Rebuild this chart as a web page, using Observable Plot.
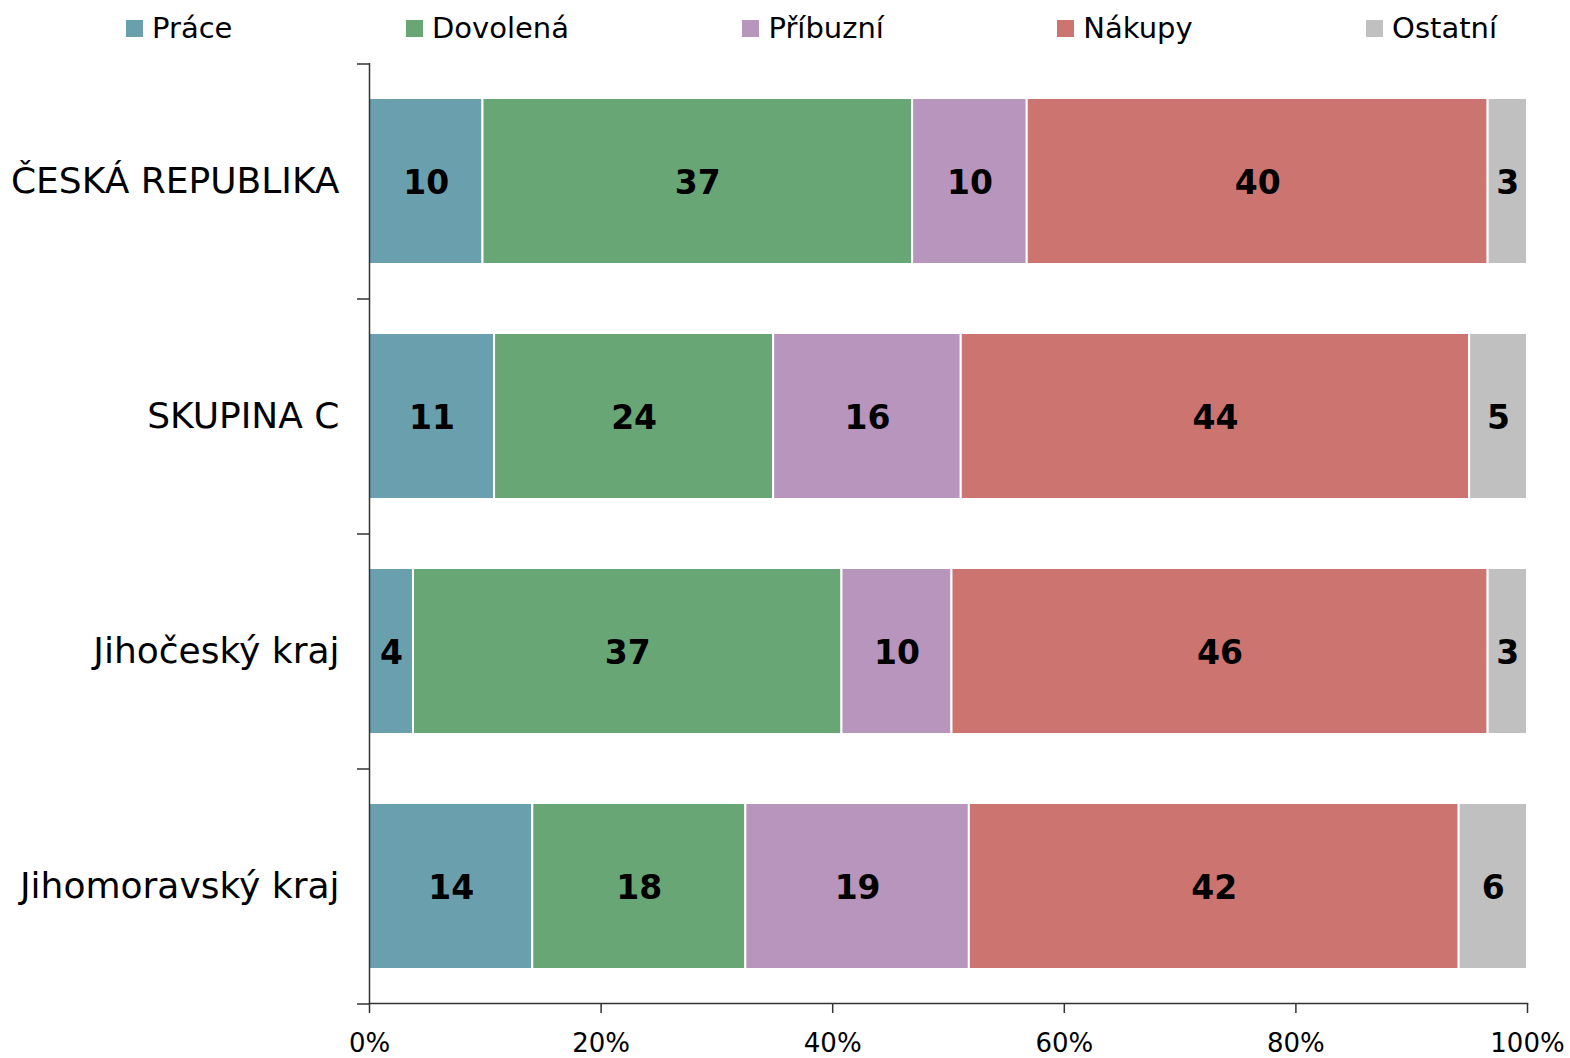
<!DOCTYPE html>
<html>
<head>
<meta charset="utf-8">
<script src="https://cdn.jsdelivr.net/npm/d3@7"></script>
<script src="https://cdn.jsdelivr.net/npm/@observablehq/plot@0.6"></script>
<style>
  html, body { margin: 0; padding: 0; background: #fff; }
  body { width: 1570px; font-family: "DejaVu Sans", Verdana, sans-serif; color: #000; }
  #legend { height: 56px; display: flex; justify-content: space-between; align-items: center;
            padding-left: 126px; padding-right: 73px; box-sizing: border-box; font-size: 29px; }
  #legend .item { display: flex; align-items: center; }
  #legend .sw { width: 17px; height: 17px; margin-right: 9px; }
</style>
</head>
<body>
<div id="legend"></div>
<div id="chart"></div>
<script>
const regions = ["ČESKÁ REPUBLIKA", "SKUPINA C", "Jihočeský kraj", "Jihomoravský kraj"];
const series = ["Práce", "Dovolená", "Příbuzní", "Nákupy", "Ostatní"];
const colors = ["#6a9fae", "#68a676", "#b895bc", "#cc7470", "#c0c0c0"];
// percentages per series, one value per region (same order as regions)
const prace    = [9.8, 10.8, 3.8, 14.1];
const dovolena = [37.1, 24.1, 37.0, 18.4];
const pribuzni = [9.9, 16.2, 9.5, 19.3];
const nakupy   = [39.8, 43.9, 46.3, 42.3];
const ostatni  = [3.4, 5.0, 3.4, 5.9];
const xTicks = [0, 0.2, 0.4, 0.6, 0.8, 1];

const valuesBySeries = [prace, dovolena, pribuzni, nakupy, ostatni];
const data = [];
regions.forEach((r, i) => series.forEach((s, j) => data.push({region: r, series: s, value: valuesBySeries[j][i]})));

// legend
const legend = document.getElementById("legend");
series.forEach((s, j) => {
  const it = document.createElement("div"); it.className = "item";
  const sw = document.createElement("div"); sw.className = "sw"; sw.style.background = colors[j];
  const tx = document.createElement("span"); tx.textContent = s;
  it.appendChild(sw); it.appendChild(tx); legend.appendChild(it);
});

const width = 1570, height = 1002;
const marginTop = 7, marginBottom = 55, marginLeft = 369, marginRight = 43;
const step = (height - marginTop - marginBottom) / regions.length;

const stackOpts = {x: "value", y: "region", z: "series", order: series, offset: "normalize"};

const chart = Plot.plot({
  width, height, marginTop, marginBottom, marginLeft, marginRight,
  style: {fontFamily: "DejaVu Sans, Verdana, sans-serif", color: "#000", background: "#fff"},
  x: {domain: [0, 1], label: null},
  y: {domain: regions, paddingInner: 0.294, paddingOuter: 0.147, label: null},
  color: {domain: series, range: colors},
  marks: [
    Plot.barX(data, Plot.stackX({...stackOpts, fill: "series", stroke: "white", strokeWidth: 2})),
    Plot.text(data, Plot.stackX({...stackOpts, text: d => Math.round(d.value), fontSize: 33, fontWeight: "bold", fill: "black", dy: 2})),
    Plot.ruleX([0], {stroke: "#333", strokeWidth: 1.5}),
    Plot.axisX({ticks: xTicks, tickFormat: d3.format(".0%"), tickSize: 10, tickPadding: 20, fontSize: 26, stroke: "#333", strokeWidth: 1.5, label: null}),
    Plot.axisY({tickSize: 0, tickPadding: 30, fontSize: 36, label: null}),
    Plot.axisY({tickFormat: null, tickSize: 12, dy: -step / 2, stroke: "#333", strokeWidth: 1.5, label: null}),
    Plot.axisY({ticks: regions.slice(-1), tickFormat: null, tickSize: 12, dy: step / 2, stroke: "#333", strokeWidth: 1.5, label: null}),
    Plot.frame({anchor: "bottom", stroke: "#333", strokeWidth: 1.5})
  ]
});
document.getElementById("chart").appendChild(chart);
</script>
</body>
</html>
